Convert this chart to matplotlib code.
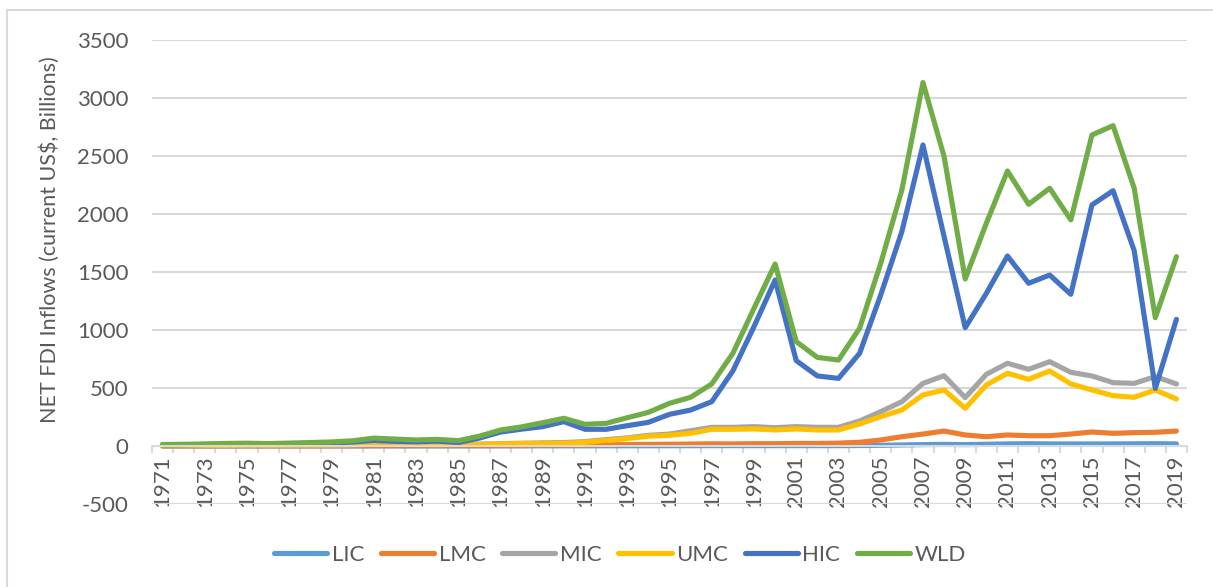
import numpy as np
import matplotlib.pyplot as plt
from matplotlib.patches import Rectangle

plt.rcParams['font.family'] = ['Lato', 'DejaVu Sans']
plt.rcParams['axes.unicode_minus'] = False

years = list(range(1971, 2020))

# NET FDI inflows, current US$ billions
lic = [0.3, 0.3, 0.4, 0.4, 0.5, 0.5, 0.6, 0.6, 0.7, 0.8, 1, 1, 1, 1, 1, 1, 1, 1.2,
       1.3, 1.5, 1.6, 1.8, 2, 2.2, 2.5, 2.7, 3, 3, 3, 3, 3, 3, 3,
       4, 6, 9, 12, 14, 12, 15, 18, 20, 18, 18, 18, 18, 19, 20, 18]
lmc = [0.5, 0.6, 0.7, 0.8, 1, 1, 1.2, 1.3, 1.5, 1.8, 2, 2.2, 2.4, 2.6, 2.8, 3, 3.5, 4,
       5, 6, 7, 10, 12, 14, 15, 17, 19, 18, 20, 20, 22, 22, 25,
       32, 52, 80, 103, 129, 95, 80, 95, 89, 89, 103, 121, 109, 115, 118, 129]
mic = [3, 3, 4, 5, 8, 7, 8, 9, 9, 11, 18, 19, 15, 14, 15, 16, 20, 24,
       27, 30, 38, 55, 70, 92, 103, 132, 161, 161, 167, 158, 167, 161, 161,
       216, 296, 382, 540, 606, 417, 618, 713, 661, 727, 635, 604, 546, 540, 598, 535]
umc = [3, 3, 4, 5, 7, 6, 7, 8, 8, 10, 16, 17, 13, 12, 13, 14, 18, 21,
       22, 24, 32, 48, 64, 84, 92, 109, 144, 144, 147, 138, 147, 138, 138,
       190, 253, 310, 440, 483, 325, 526, 627, 575, 647, 535, 483, 434, 420, 483, 405]
hic = [10, 11, 13, 17, 16, 14, 17, 21, 26, 34, 48, 40, 36, 42, 30, 68, 120, 145,
       167, 210, 144, 144, 175, 204, 273, 310, 382, 647, 1029, 1431, 736, 604, 583,
       799, 1302, 1848, 2595, 1805, 1020, 1316, 1638, 1403, 1474, 1308, 2078, 2201, 1684, 497, 1092]
wld = [13, 15, 18, 22, 24, 21, 25, 30, 35, 45, 68, 60, 52, 57, 46, 85, 138, 165,
       201, 239, 187, 195, 244, 290, 368, 420, 535, 799, 1187, 1569, 900, 764, 741,
       1015, 1575, 2207, 3133, 2495, 1440, 1920, 2371, 2084, 2222, 1949, 2681, 2762, 2222, 1106, 1632]

series = [('LIC', lic, '#5B9BD5'), ('LMC', lmc, '#ED7D31'), ('MIC', mic, '#A5A5A5'),
          ('UMC', umc, '#FFC000'), ('HIC', hic, '#4472C4'), ('WLD', wld, '#70AD47')]

fig = plt.figure(figsize=(12.13, 5.87), dpi=100)
ax = fig.add_axes([152/1213, 1 - 504/587, (1187 - 152)/1213, (504 - 40)/587])

x = np.arange(len(years))
for name, vals, col in series:
    ax.plot(x, vals, color=col, lw=3.7, label=name,
            solid_capstyle='round', solid_joinstyle='round')

ax.set_xlim(-0.5, len(years) - 0.5)
ax.set_ylim(-500, 3500)
ax.set_yticks(range(-500, 3501, 500))
ax.yaxis.grid(True, color='#D9D9D9', lw=1.5)
ax.set_axisbelow(True)

for s in ['top', 'right', 'left']:
    ax.spines[s].set_visible(False)
ax.spines['bottom'].set_position(('data', 0))
ax.spines['bottom'].set_color('#D9D9D9')
ax.spines['bottom'].set_linewidth(1.5)

ax.set_xticks(x[::2])
ax.set_xticklabels([str(y) for y in years[::2]], rotation=90)
ax.set_xticks(np.arange(-0.5, len(years), 1), minor=True)
ax.tick_params(axis='x', which='major', length=0, pad=7, labelsize=16, labelcolor='#595959')
ax.tick_params(axis='x', which='minor', length=5, width=1.5, color='#D9D9D9')
ax.tick_params(axis='y', length=0, pad=17, labelsize=16, labelcolor='#595959')

fig.text(50/1213, 1 - 240/587, 'NET FDI Inflows (current US$, Billions)',
         rotation=90, ha='center', va='center', fontsize=15.5, color='#595959')

fig.legend(loc='center', bbox_to_anchor=(620/1213, 1 - 555/587), ncol=6, frameon=False,
           fontsize=16, handlelength=2.4, handletextpad=0.2, columnspacing=0.75,
           labelcolor='#595959')

fig.patches.append(Rectangle((7/1213, -0.2), 1.2, 1.2 - 10/587, transform=fig.transFigure,
                             fill=False, edgecolor='#D9D9D9', lw=1.5))

fig.savefig('out.png', dpi=100)
